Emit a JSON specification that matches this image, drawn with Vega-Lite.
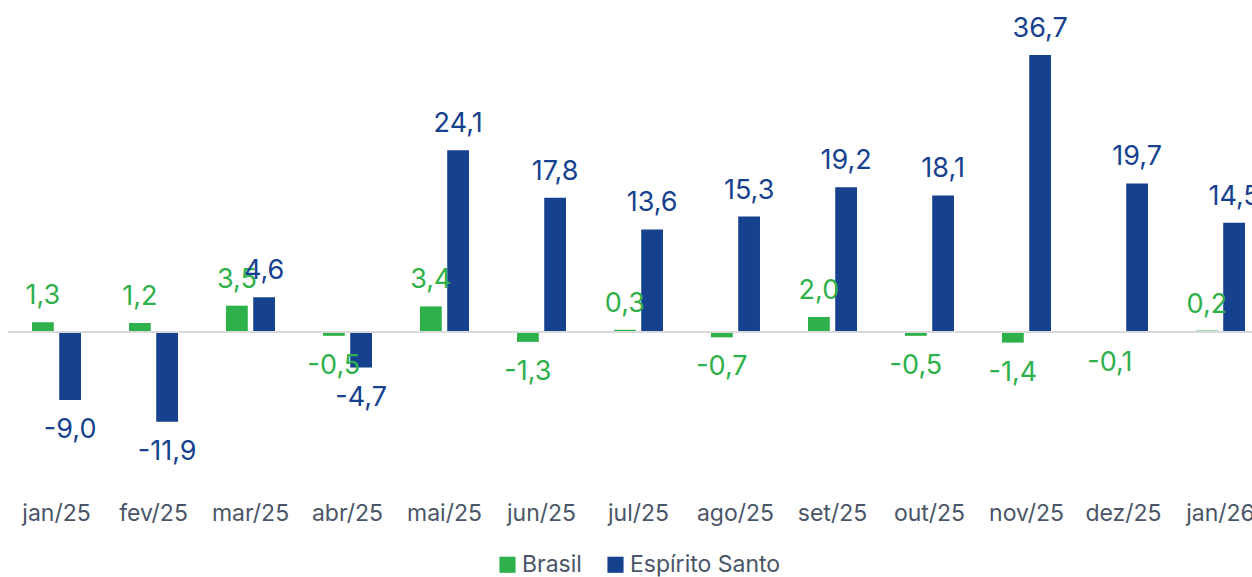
{
  "$schema": "https://vega.github.io/schema/vega-lite/v6.json",
  "width": 1261,
  "height": 483,
  "autosize": {"type": "none"},
  "padding": {"left": 8, "top": 0, "right": 0, "bottom": 94},
  "background": "white",
  "config": {
    "view": {"stroke": null},
    "font": "Inter",
    "locale": {"number": {"decimal": ",", "thousands": ".", "grouping": [3], "currency": ["R$", ""], "minus": "-"}}
  },
  "data": {
    "values": [
      {"mes": "jan/25", "serie": "Brasil", "valor": 1.3},
      {"mes": "jan/25", "serie": "Espírito Santo", "valor": -9.0},
      {"mes": "fev/25", "serie": "Brasil", "valor": 1.2},
      {"mes": "fev/25", "serie": "Espírito Santo", "valor": -11.9},
      {"mes": "mar/25", "serie": "Brasil", "valor": 3.5},
      {"mes": "mar/25", "serie": "Espírito Santo", "valor": 4.6},
      {"mes": "abr/25", "serie": "Brasil", "valor": -0.5},
      {"mes": "abr/25", "serie": "Espírito Santo", "valor": -4.7},
      {"mes": "mai/25", "serie": "Brasil", "valor": 3.4},
      {"mes": "mai/25", "serie": "Espírito Santo", "valor": 24.1},
      {"mes": "jun/25", "serie": "Brasil", "valor": -1.3},
      {"mes": "jun/25", "serie": "Espírito Santo", "valor": 17.8},
      {"mes": "jul/25", "serie": "Brasil", "valor": 0.3},
      {"mes": "jul/25", "serie": "Espírito Santo", "valor": 13.6},
      {"mes": "ago/25", "serie": "Brasil", "valor": -0.7},
      {"mes": "ago/25", "serie": "Espírito Santo", "valor": 15.3},
      {"mes": "set/25", "serie": "Brasil", "valor": 2.0},
      {"mes": "set/25", "serie": "Espírito Santo", "valor": 19.2},
      {"mes": "out/25", "serie": "Brasil", "valor": -0.5},
      {"mes": "out/25", "serie": "Espírito Santo", "valor": 18.1},
      {"mes": "nov/25", "serie": "Brasil", "valor": -1.4},
      {"mes": "nov/25", "serie": "Espírito Santo", "valor": 36.7},
      {"mes": "dez/25", "serie": "Brasil", "valor": -0.1},
      {"mes": "dez/25", "serie": "Espírito Santo", "valor": 19.7},
      {"mes": "jan/26", "serie": "Brasil", "valor": 0.2},
      {"mes": "jan/26", "serie": "Espírito Santo", "valor": 14.5}
    ]
  },
  "encoding": {
    "x": {
      "field": "mes", "type": "nominal", "sort": null,
      "scale": {"paddingInner": 0.495, "paddingOuter": 0.2475},
      "axis": {"title": null, "domain": false, "ticks": false, "labelAngle": 0, "labelFontSize": 23, "labelColor": "#4a5568", "labelPadding": 19, "labelFont": "Inter"}
    },
    "y": {
      "field": "valor", "type": "quantitative",
      "scale": {"domain": [-20, 44], "nice": false, "zero": false},
      "axis": null
    }
  },
  "layer": [
    {
      "mark": {"type": "bar"},
      "encoding": {
        "xOffset": {"field": "serie", "type": "nominal", "scale": {"paddingInner": 0.2, "paddingOuter": 0}},
        "color": {
          "field": "serie", "type": "nominal",
          "scale": {"domain": ["Brasil", "Espírito Santo"], "range": ["#2eb04b", "#16418f"]},
          "legend": {"title": null, "orient": "none", "legendX": 488, "legendY": 553, "direction": "horizontal", "symbolType": "square", "symbolSize": 260, "symbolStrokeWidth": 0, "labelFontSize": 23, "labelColor": "#4a5568", "labelFont": "Inter", "columnPadding": 22, "labelOffset": 3}
        }
      }
    },
    {
      "mark": {"type": "rule", "color": "#d9d9d9", "strokeWidth": 2},
      "encoding": {"y": {"datum": 0}, "x": {"value": 0}, "x2": {"value": 1261}}
    },
    {
      "transform": [{"filter": "datum.valor >= 0"}],
      "mark": {"type": "text", "baseline": "middle", "dy": -26, "fontSize": 27, "font": "Inter"},
      "encoding": {
        "xOffset": {"field": "serie", "type": "nominal", "scale": {"paddingInner": 0.2, "paddingOuter": 0}},
        "text": {"field": "valor", "type": "quantitative", "format": ".1f"},
        "color": {"field": "serie", "type": "nominal", "legend": null}
      }
    },
    {
      "transform": [{"filter": "datum.valor < 0"}],
      "mark": {"type": "text", "baseline": "middle", "dy": 30, "fontSize": 27, "font": "Inter"},
      "encoding": {
        "xOffset": {"field": "serie", "type": "nominal", "scale": {"paddingInner": 0.2, "paddingOuter": 0}},
        "text": {"field": "valor", "type": "quantitative", "format": ".1f"},
        "color": {"field": "serie", "type": "nominal", "legend": null}
      }
    }
  ]
}
